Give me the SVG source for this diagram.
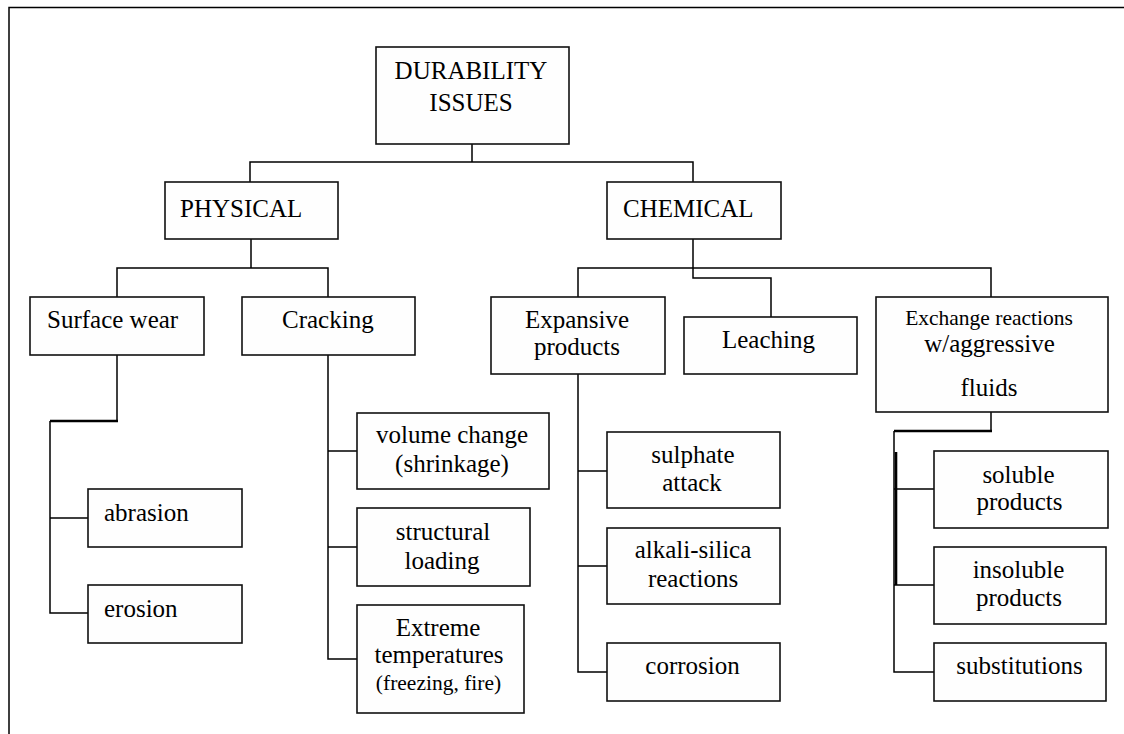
<svg xmlns="http://www.w3.org/2000/svg" width="1124" height="734" viewBox="0 0 1124 734">
<style>
.box{fill:#fefefe;stroke:#111;stroke-width:1.6}
.ln{fill:none;stroke:#000;stroke-width:1.5}
.thick{fill:none;stroke:#000;stroke-width:2.6}
text{font-family:'Liberation Serif','Times New Roman','DejaVu Serif',serif;font-size:25px;fill:#000}
.c{text-anchor:middle}
.sm{font-size:21.5px}
</style>
<rect width="1124" height="734" fill="#fff"/>
<path class="ln" d="M9,734 V7.5 H1124"/>
<g id="connectors">
<path class="ln" d="M472,144 V162 M250,182 V162 H693 V182"/>
<path class="ln" d="M251,239 V268 M117,297 V268 H328 V297"/>
<path class="ln" d="M117,355 V421"/>
<path class="thick" d="M118,421 H50"/>
<path class="ln" d="M50,421 V613 H88 M50,518 H88"/>
<path class="ln" d="M328,355 V659 H357 M328,451 H357 M328,547 H357"/>
<path class="ln" d="M693,239 V278 H771 V317 M578,297 V268 H991 V297"/>
<path class="ln" d="M578,374 V672 H607 M578,471 H607 M578,566 H607"/>
<path class="ln" d="M991,412 V431"/>
<path class="thick" d="M992,431 H894"/>
<path class="ln" d="M894,431 V672 H934 M894,489 H934 M894,585 H934"/>
<path class="thick" d="M896,452 V585"/>
</g>
<g id="n-durability"><rect class="box" x="376" y="47" width="193" height="97"/><text class="c" x="471" y="79">DURABILITY</text><text class="c" x="471" y="111">ISSUES</text></g>
<g id="n-physical"><rect class="box" x="165" y="182" width="173" height="57"/><text x="180" y="217">PHYSICAL</text></g>
<g id="n-chemical"><rect class="box" x="607" y="182" width="174" height="57"/><text x="623" y="217">CHEMICAL</text></g>
<g id="n-surface"><rect class="box" x="30" y="297" width="174" height="58"/><text x="47" y="328">Surface wear</text></g>
<g id="n-cracking"><rect class="box" x="242" y="297" width="173" height="58"/><text x="282" y="328">Cracking</text></g>
<g id="n-expansive"><rect class="box" x="491" y="297" width="174" height="77"/><text class="c" x="577" y="328">Expansive</text><text class="c" x="577" y="355">products</text></g>
<g id="n-leaching"><rect class="box" x="684" y="317" width="173" height="57"/><text class="c" x="768.5" y="348">Leaching</text></g>
<g id="n-exchange"><rect class="box" x="876" y="297" width="232" height="115"/><text class="c sm" x="989" y="325">Exchange reactions</text><text class="c" x="989.5" y="352">w/aggressive</text><text class="c" x="989" y="396">fluids</text></g>
<g id="n-abrasion"><rect class="box" x="88" y="489" width="154" height="58"/><text x="104" y="521">abrasion</text></g>
<g id="n-erosion"><rect class="box" x="88" y="585" width="154" height="58"/><text x="104" y="617">erosion</text></g>
<g id="n-volume"><rect class="box" x="357" y="413" width="192" height="76"/><text class="c" x="452" y="443">volume change</text><text class="c" x="452" y="472">(shrinkage)</text></g>
<g id="n-structural"><rect class="box" x="357" y="508" width="173" height="78"/><text class="c" x="443" y="540">structural</text><text class="c" x="442" y="569">loading</text></g>
<g id="n-extreme"><rect class="box" x="357" y="605" width="167" height="108"/><text class="c" x="438" y="636">Extreme</text><text class="c" x="439" y="663">temperatures</text><text class="c sm" x="438.5" y="690">(freezing, fire)</text></g>
<g id="n-sulphate"><rect class="box" x="607" y="432" width="173" height="76"/><text class="c" x="693" y="463">sulphate</text><text class="c" x="692" y="491">attack</text></g>
<g id="n-alkali"><rect class="box" x="607" y="528" width="173" height="76"/><text class="c" x="693" y="558">alkali-silica</text><text class="c" x="693" y="587">reactions</text></g>
<g id="n-corrosion"><rect class="box" x="607" y="643" width="173" height="58"/><text class="c" x="692.5" y="674">corrosion</text></g>
<g id="n-soluble"><rect class="box" x="934" y="451" width="174" height="77"/><text class="c" x="1018.5" y="483">soluble</text><text class="c" x="1019.5" y="510">products</text></g>
<g id="n-insoluble"><rect class="box" x="934" y="547" width="172" height="77"/><text class="c" x="1018.5" y="578">insoluble</text><text class="c" x="1019" y="606">products</text></g>
<g id="n-substitutions"><rect class="box" x="934" y="643" width="172" height="58"/><text class="c" x="1019.5" y="674">substitutions</text></g>
</svg>
